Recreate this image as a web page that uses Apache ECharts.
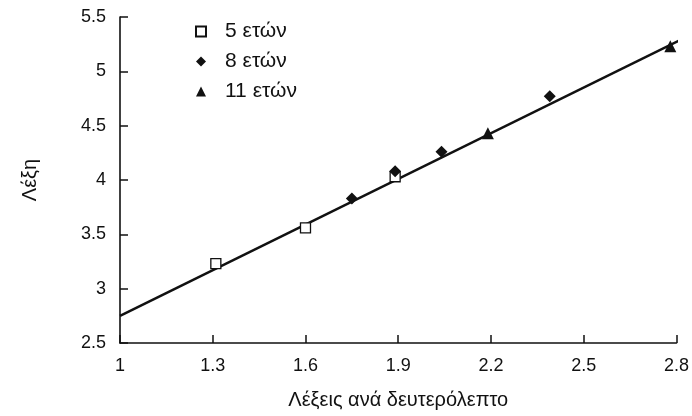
<!DOCTYPE html>
<html>
<head>
<meta charset="utf-8">
<script src="https://cdn.jsdelivr.net/npm/echarts@6/dist/echarts.min.js"></script>
<style>
html,body{margin:0;padding:0;background:#fff;}
#c{width:692px;height:416px;}
</style>
</head>
<body>
<div id="c"></div>
<script>
const seriesNames = ['5 ετών', '8 ετών', '11 ετών'];
const x5 = [1.31, 1.6, 1.89];
const y5 = [3.23, 3.56, 4.03];
const x8 = [1.75, 1.89, 2.04, 2.39];
const y8 = [3.83, 4.08, 4.26, 4.77];
const x11 = [2.19, 2.78];
const y11 = [4.43, 5.23];
const fitX = [1, 2.82];
const fitY = [2.75, 5.30];
const xAxisName = 'Λέξεις ανά δευτερόλεπτο';
const yAxisName = 'Λέξη';

const zip = (a, b) => a.map((v, i) => [v, b[i]]);
const FONT = '"Liberation Sans", Arial, sans-serif';
const INK = '#111';

const chart = echarts.init(document.getElementById('c'), null, {renderer: 'canvas'});
chart.setOption({
  animation: false,
  backgroundColor: '#fff',
  textStyle: {fontFamily: FONT, color: INK},
  grid: {left: 120, right: 12, top: 17, bottom: 73},
  legend: {
    data: seriesNames,
    orient: 'vertical',
    left: 190,
    top: 16,
    itemWidth: 10,
    itemHeight: 10,
    itemGap: 9,
    textStyle: {fontFamily: FONT, fontSize: 21, color: INK, padding: [0, 0, 0, 14]}
  },
  xAxis: {
    type: 'value',
    min: 1, max: 2.8, interval: 0.3,
    name: xAxisName,
    nameLocation: 'middle',
    nameGap: 47,
    nameTextStyle: {fontFamily: FONT, fontSize: 20, color: INK},
    axisLine: {show: true, lineStyle: {color: INK, width: 1.6}},
    axisTick: {show: true, inside: true, length: 8, lineStyle: {color: INK, width: 1.5}},
    axisLabel: {fontFamily: FONT, fontSize: 18, color: INK, margin: 14,
      formatter: v => String(Math.round(v * 10) / 10)},
    splitLine: {show: false}
  },
  yAxis: {
    type: 'value',
    min: 2.5, max: 5.5, interval: 0.5,
    name: yAxisName,
    nameLocation: 'middle',
    nameGap: 80,
    nameRotate: 90,
    nameTextStyle: {fontFamily: FONT, fontSize: 20, color: INK},
    axisLine: {show: true, lineStyle: {color: INK, width: 1.6}},
    axisTick: {show: true, inside: true, length: 8, lineStyle: {color: INK, width: 1.5}},
    axisLabel: {fontFamily: FONT, fontSize: 18, color: INK, margin: 14},
    splitLine: {show: false}
  },
  series: [
    {
      type: 'line',
      data: zip(fitX, fitY),
      showSymbol: false,
      symbol: 'none',
      clip: false,
      silent: true,
      z: 1,
      lineStyle: {color: INK, width: 2.5}
    },
    {
      name: seriesNames[0],
      type: 'scatter',
      data: zip(x5, y5),
      symbol: 'rect',
      symbolSize: 10,
      z: 3,
      itemStyle: {color: '#fff', borderColor: INK, borderWidth: 1.3, opacity: 1}
    },
    {
      name: seriesNames[1],
      type: 'scatter',
      data: zip(x8, y8),
      symbol: 'diamond',
      symbolSize: 12,
      z: 3,
      itemStyle: {color: INK, opacity: 1}
    },
    {
      name: seriesNames[2],
      type: 'scatter',
      data: zip(x11, y11),
      symbol: 'triangle',
      symbolSize: 12,
      z: 3,
      itemStyle: {color: INK, opacity: 1}
    }
  ]
});
</script>
</body>
</html>
